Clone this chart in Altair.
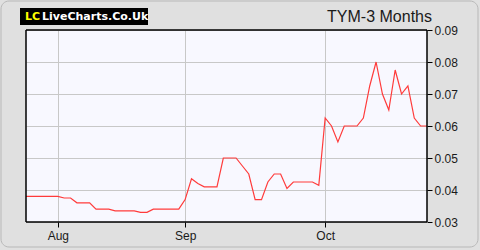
import altair as alt
import pandas as pd

# Price series (trading-day index -> price)
prices = [
    0.038, 0.038, 0.038, 0.038, 0.038, 0.038,
    0.0375, 0.0375,
    0.036, 0.036, 0.036,
    0.034, 0.034, 0.034,
    0.0335, 0.0335, 0.0335, 0.0335,
    0.033, 0.033,
    0.034, 0.034, 0.034, 0.034, 0.034,
    0.037, 0.0435, 0.042, 0.041, 0.041, 0.041,
    0.05, 0.05, 0.05, 0.0475, 0.045,
    0.037, 0.037, 0.0425, 0.045, 0.045, 0.0405,
    0.0425, 0.0425, 0.0425, 0.0425, 0.0415,
    0.0625, 0.06, 0.055, 0.06, 0.06, 0.06, 0.0625,
    0.0725, 0.08, 0.07, 0.065, 0.0775, 0.07, 0.0725,
    0.0625, 0.06, 0.06,
]
tick_positions = [5, 25, 47]
tick_labels = ["Aug", "Sep", "Oct"]
y_ticks = [0.03, 0.04, 0.05, 0.06, 0.07, 0.08, 0.09]
title_text = "TYM-3 Months"
logo_a = "LC"
logo_b = "LiveCharts.Co.Uk"

df = pd.DataFrame({"i": list(range(len(prices))), "price": prices})

label_expr = " : ".join(
    f"datum.value == {p} ? '{l}'" for p, l in zip(tick_positions, tick_labels)
) + " : ''"

FONT = "Liberation Sans"
W, H = 401, 192

one = alt.Data(values=[{}])

border = alt.Chart(one).mark_rect(
    cornerRadius=8, filled=False, color="#b8b8b8", strokeWidth=1, clip=False
).encode(
    x=alt.value(-25), x2=alt.value(452), y=alt.value(-29), y2=alt.value(217)
)

line = alt.Chart(df).mark_line(color="#ff3b3b", strokeWidth=1.2, clip=True).encode(
    x=alt.X(
        "i:Q",
        scale=alt.Scale(domain=[0, len(prices) - 1], nice=False, zero=False),
        axis=alt.Axis(
            values=tick_positions,
            labelExpr=label_expr,
            title=None,
            grid=True,
            gridColor="#c8c8c8",
            domain=False,
            ticks=True,
            tickColor="#000000",
            tickSize=5,
            labelFont=FONT,
            labelFontSize=12,
            labelColor="#1a1a1a",
            labelPadding=3,
        ),
    ),
    y=alt.Y(
        "price:Q",
        scale=alt.Scale(domain=[0.03, 0.09], nice=False, zero=False),
        axis=alt.Axis(
            orient="right",
            values=y_ticks,
            format=".2f",
            title=None,
            grid=True,
            gridColor="#c8c8c8",
            domain=False,
            tickColor="#000000",
            tickSize=5,
            labelFont=FONT,
            labelFontSize=12,
            labelColor="#1a1a1a",
            labelPadding=2,
        ),
    ),
)

frame_top = alt.Chart(one).mark_rule(color="#000000", strokeWidth=1.5, clip=False).encode(
    x=alt.value(0), x2=alt.value(W), y=alt.value(0))
frame_bottom = alt.Chart(one).mark_rule(color="#000000", strokeWidth=1.5, clip=False).encode(
    x=alt.value(0), x2=alt.value(W), y=alt.value(H))
frame_left = alt.Chart(one).mark_rule(color="#000000", strokeWidth=1.5, clip=False).encode(
    x=alt.value(0), y=alt.value(0), y2=alt.value(H))
frame_right = alt.Chart(one).mark_rule(color="#000000", strokeWidth=1.5, clip=False).encode(
    x=alt.value(W), y=alt.value(0), y2=alt.value(H))

title = alt.Chart(one).mark_text(
    text=title_text, font=FONT, fontSize=16, color="#1a1a1a",
    align="right", baseline="alphabetic", clip=False
).encode(x=alt.value(406), y=alt.value(-8))

logo_box = alt.Chart(one).mark_rect(color="#000000", clip=False).encode(
    x=alt.value(-6), x2=alt.value(122), y=alt.value(-22), y2=alt.value(-5)
)
logo_lc = alt.Chart(one).mark_text(
    text=logo_a, font="DejaVu Sans", fontWeight="bold", fontSize=11,
    color="#ffff00", align="left", baseline="middle", clip=False
).encode(x=alt.value(-1), y=alt.value(-13))
logo_txt = alt.Chart(one).mark_text(
    text=logo_b, font="DejaVu Sans", fontWeight="bold", fontSize=11,
    color="#ffffff", align="left", baseline="middle", clip=False
).encode(x=alt.value(16), y=alt.value(-13))

chart = alt.layer(
    border, line, frame_top, frame_bottom, frame_left, frame_right,
    title, logo_box, logo_lc, logo_txt
).properties(
    width=W,
    height=H,
    background="#e0e0e0",
    padding={"left": 26, "top": 30, "right": 53, "bottom": 28},
    autosize=alt.AutoSizeParams(type="none"),
).configure_view(
    fill="#f8f8ff", stroke=None
)

chart.save("out.html", embed_options={"renderer": "svg", "actions": False})
